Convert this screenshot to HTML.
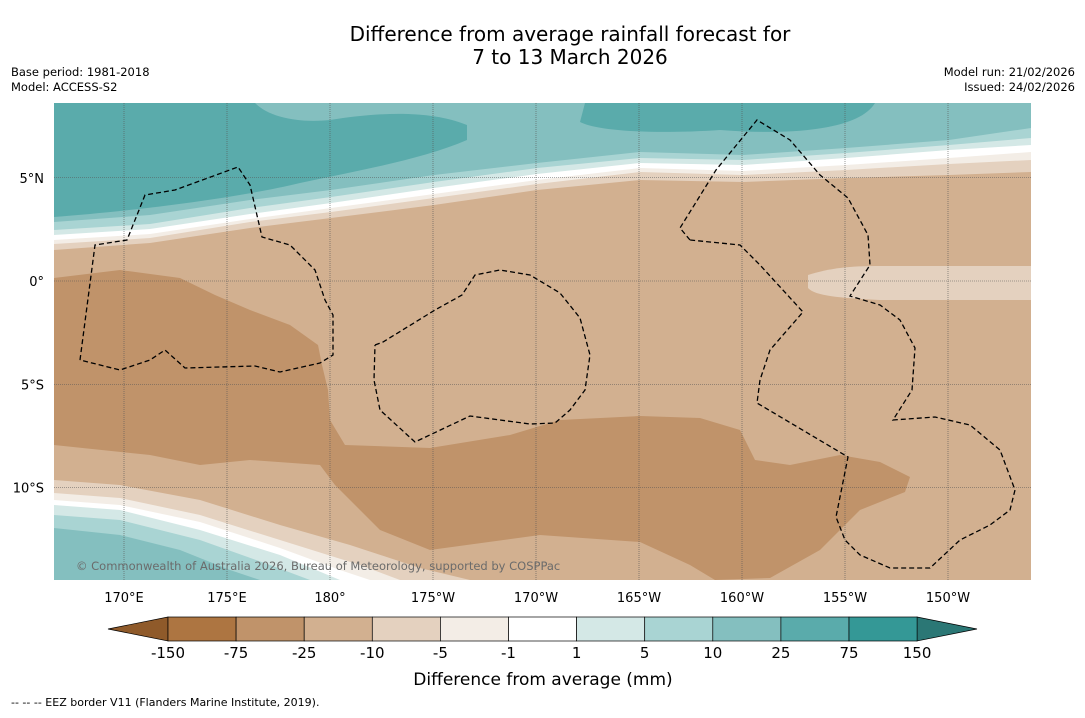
<!DOCTYPE html>
<html><head><meta charset="utf-8"><style>
body{margin:0;background:#fff;width:1085px;height:713px;overflow:hidden;font-family:"Liberation Sans","DejaVu Sans",sans-serif}
svg text{font-family:"DejaVu Sans","Liberation Sans",sans-serif}
</style></head><body>
<svg width="1085" height="713">
<defs><clipPath id="mc"><rect x="54" y="103" width="977" height="477"/></clipPath></defs>
<text x="570" y="41" font-size="20" text-anchor="middle">Difference from average rainfall forecast for</text>
<text x="570" y="64" font-size="20" text-anchor="middle">7 to 13 March 2026</text>
<text x="11" y="76" font-size="11.5">Base period: 1981-2018</text>
<text x="11" y="91" font-size="11.5">Model: ACCESS-S2</text>
<text x="1075" y="76" font-size="11.5" text-anchor="end">Model run: 21/02/2026</text>
<text x="1075" y="91" font-size="11.5" text-anchor="end">Issued: 24/02/2026</text>
<g id="map" clip-path="url(#mc)"></g>
<g id="axes"></g>
<g id="cbar"></g>
<text x="543" y="685" font-size="17" text-anchor="middle">Difference from average (mm)</text>
<text x="11" y="706" font-size="11">--  --  -- EEZ border V11 (Flanders Marine Institute, 2019).</text>
</svg>
<script>
const levels=["-150","-75","-25","-10","-5","-1","1","5","10","25","75","150"];
const colors=["#ad7541","#c0936a","#d2b090","#e4d1bf","#f3ede6","#ffffff","#d4e8e6","#a9d4d3","#84bfbf","#5aabab","#349896"];
const lonTicks=["170°E","175°E","180°","175°W","170°W","165°W","160°W","155°W","150°W"];
const lonVals=[170,175,180,185,190,195,200,205,210];
const latTicks=["5°N","0°","5°S","10°S"];
const latVals=[5,0,-5,-10];
const NS="http://www.w3.org/2000/svg";
const X=l=>124+(l-170)*20.6, Y=la=>281-la*20.65;
function mk(t,a,p){const e=document.createElementNS(NS,t);for(const k in a)e.setAttribute(k,a[k]);p.appendChild(e);return e;}
const map=document.getElementById('map');
const P=a=>a.map(p=>p.join(',')).join(' ');
let r=mk('rect',{x:54,y:103,width:977,height:477,fill:colors[2]},map);


const xs=[54,150,250,331,434,537,640,743,846,949,1031];
const northBands=[
 [3,[250,243,228,218,205,190,180,182,178,175,172]],
 [4,[244,238,222,212,198,184,172,175,170,164,160]],
 [5,[240,234,219,208,194,180,168,171,165,158,152]],
 [6,[235,229,214,203,188,174,163,165,158,150,145]],
 [7,[230,224,208,197,182,168,158,160,153,145,138]],
 [8,[222,215,200,190,175,163,152,155,148,140,128]]];
northBands.forEach(([c,ys])=>{const pts=[[54,103]];xs.forEach((x,i)=>pts.push([x,ys[i]]));pts.push([1031,103]);
 const e=mk('polygon',{points:P(pts),fill:colors[c]},map);
 
 });
let e=mk('path',{d:'M54,103 L54,217 C120,212 230,200 300,183 C360,170 420,160 467,140 L467,125 C430,110 380,112 330,120 C300,123 270,118 255,103 Z',fill:colors[9]},map);


e=mk('path',{d:'M585,103 L580,122 C600,132 660,134 720,130 C800,136 860,128 875,103 Z',fill:colors[9]},map);


e=mk('path',{d:'M808,275 C830,268 850,266 880,266 L1031,266 L1031,300 L880,300 C840,298 815,296 808,288 Z',fill:colors[3]},map);


const brown=[[54,278],[120,270],[180,278],[215,295],[250,310],[290,325],[318,345],[322,365],[328,390],[330,420],[345,445],[430,448],[510,435],[560,420],[640,416],[700,418],[740,430],[755,460],[790,465],[840,455],[880,462],[910,477],[905,492],[860,510],[820,550],[770,578],[715,580],[690,565],[640,542],[540,535],[430,550],[380,530],[335,485],[320,465],[250,460],[200,465],[150,455],[54,445]];
e=mk('polygon',{points:P(brown),fill:colors[1]},map);


const bot=[
 [3,[[54,480],[120,485],[200,500],[280,525],[350,545],[420,568],[470,580]]],
 [4,[[54,493],[120,498],[200,515],[280,540],[360,565],[400,580]]],
 [5,[[54,500],[120,505],[200,522],[280,548],[340,570],[370,580]]],
 [6,[[54,505],[120,510],[200,530],[280,555],[340,580]]],
 [7,[[54,515],[120,520],[200,540],[270,565],[310,580]]],
 [8,[[54,528],[120,535],[180,550],[230,570],[260,580]]]];
bot.forEach(([c,pts])=>{const q=pts.concat([[54,580]]);
 const e=mk('polygon',{points:P(q),fill:colors[c]},map);
 
 });
lonVals.forEach(v=>{const l=mk('line',{x1:X(v),x2:X(v),y1:103,y2:580,stroke:'#555','stroke-width':0.6,'stroke-dasharray':'1,1'},map);
 
 });
latVals.forEach(v=>{const l=mk('line',{x1:54,x2:1031,y1:Y(v),y2:Y(v),stroke:'#555','stroke-width':0.6,'stroke-dasharray':'1,1'},map);
 
 });
const eez=[
 [[80,360],[95,245],[127,240],[145,195],[175,190],[238,167],[250,185],[262,237],[290,245],[315,270],[325,300],[333,315],[333,355],[320,363],[280,372],[255,366],[185,368],[165,350],[150,360],[120,370],[80,360]],
 [[375,345],[383,342],[435,310],[462,295],[475,275],[500,270],[530,275],[560,293],[580,318],[590,355],[585,390],[570,410],[555,423],[530,424],[470,416],[415,442],[380,410],[374,380],[375,345]],
 [[690,240],[680,228],[716,170],[757,120],[790,140],[820,175],[848,198],[868,235],[870,265],[850,296],[880,305],[900,320],[915,348],[912,390],[893,420],[935,417],[970,425],[1000,450],[1015,490],[1010,510],[990,525],[960,540],[930,568],[890,568],[860,555],[845,540],[836,517],[848,457],[757,403],[760,380],[770,350],[803,312],[760,265],[740,245],[690,240]]];
eez.forEach(pts=>{const l=mk('polyline',{points:P(pts),fill:'none',stroke:'#000','stroke-width':1.3,'stroke-dasharray':'5,3'},map);
 
 });
let t=mk('text',{x:76,y:570,'font-size':11.5,fill:'#6b6b6b'},map);t.textContent='© Commonwealth of Australia 2026, Bureau of Meteorology, supported by COSPPac';


const ax=document.getElementById('axes');
lonTicks.forEach((s,i)=>{const t=mk('text',{x:X(lonVals[i]),y:602,'font-size':13,'text-anchor':'middle'},ax);t.textContent=s;
 
 });
latTicks.forEach((s,i)=>{const t=mk('text',{x:44,y:Y(latVals[i])+5,'font-size':13,'text-anchor':'end'},ax);t.textContent=s;
 
 });
const cb=document.getElementById('cbar');
const bx=168,bw=68.1,by=617,bh=24;
let tri=mk('polygon',{points:`168,${by} 108,${by+bh/2} 168,${by+bh}`,fill:'#8f5a2a',stroke:'#000','stroke-width':0.7},cb);


tri=mk('polygon',{points:`917,${by} 977,${by+bh/2} 917,${by+bh}`,fill:'#2b7775',stroke:'#000','stroke-width':0.7},cb);


colors.forEach((c,i)=>{const r=mk('rect',{x:bx+i*bw,y:by,width:bw,height:bh,fill:c,stroke:'#000','stroke-width':0.7},cb);
 
 });
levels.forEach((s,i)=>{const t=mk('text',{x:bx+i*bw,y:658,'font-size':15,'text-anchor':'middle'},cb);t.textContent=s;
 
 });
</script>
</body></html>
